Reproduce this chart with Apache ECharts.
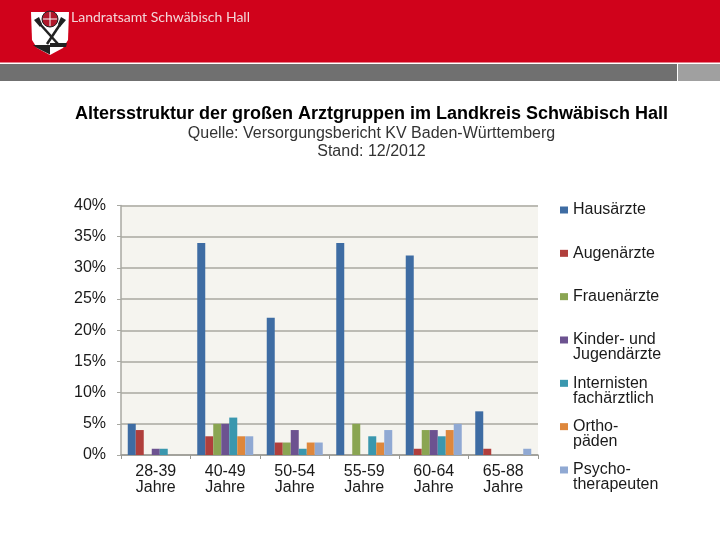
<!DOCTYPE html>
<html><head><meta charset="utf-8">
<style>html,body{margin:0;padding:0;background:#fff}#c{width:720px;height:540px}</style>
<script src="https://cdn.jsdelivr.net/npm/echarts@6/dist/echarts.min.js"></script>
</head><body><div id="c"></div>
<script>
const categories = ['28-39\nJahre','40-49\nJahre','50-54\nJahre','55-59\nJahre','60-64\nJahre','65-88\nJahre'];
const hausaerzte = [5,34,22,34,32,7];
const augenaerzte = [4,3,2,0,1,1];
const frauenaerzte = [0,5,2,5,4,0];
const kinderaerzte = [1,5,4,0,4,0];
const internisten = [1,6,1,3,3,0];
const orthopaeden = [0,3,2,2,4,0];
const psychotherapeuten = [0,3,2,4,5,1];
const seriesNames = ['Hausärzte','Augenärzte','Frauenärzte','Kinder- und\nJugendärzte','Internisten\nfachärztlich','Ortho-\npäden','Psycho-\ntherapeuten'];
const seriesValues = [hausaerzte,augenaerzte,frauenaerzte,kinderaerzte,internisten,orthopaeden,psychotherapeuten];
const colors = ['#3E6CA3','#B03F3C','#8AA552','#6C5290','#3A97AE','#DE873C','#90A9D3'];
const chart = echarts.init(document.getElementById('c'),null,{renderer:'canvas'});
const F='"Liberation Sans",Arial,sans-serif';
chart.setOption({
  animation:false,
  backgroundColor:'#fff',
  color:colors,
  title:{text:'Altersstruktur der großen Arztgruppen im Landkreis Schwäbisch Hall',
    subtext:'Quelle: Versorgungsbericht KV Baden-Württemberg\nStand: 12/2012',
    left:366.5,top:100,textAlign:'center',itemGap:2,
    textStyle:{fontFamily:F,fontSize:18,fontWeight:'bold',color:'#000'},
    subtextStyle:{fontFamily:F,fontSize:16,color:'#333',lineHeight:18,align:'center'}},
  legend:{orient:'vertical',left:555,top:182,itemWidth:8,itemHeight:7,itemGap:-2.67,icon:'rect',
    selectedMode:false,
    formatter:n=>n.includes('\n')?'\n'+n:'\n'+n+'\n ',
    textStyle:{fontFamily:F,fontSize:16,color:'#1a1a1a',lineHeight:15}},
  grid:{left:121,top:205.5,width:417,height:249.5},
  xAxis:{type:'category',data:categories,
    axisLine:{lineStyle:{color:'#9A9A94',width:1.5}},
    axisTick:{show:true,alignWithLabel:false,length:4,lineStyle:{color:'#9A9A94'}},
    axisLabel:{fontFamily:F,fontSize:16,color:'#1a1a1a',lineHeight:16,margin:9,interval:0}},
  yAxis:{type:'value',min:0,max:40,interval:5,
    axisLabel:{formatter:'{value}%',fontFamily:F,fontSize:16,color:'#1a1a1a',margin:15},
    axisLine:{show:true,lineStyle:{color:'#A8A8A2',width:1.5}},
    axisTick:{show:true,length:4,lineStyle:{color:'#A8A8A2'}},
    splitLine:{lineStyle:{color:'#A8A8A0',width:1.5}},
    splitArea:{show:false}},
  series:seriesNames.map((n,i)=>({name:n,type:'bar',data:seriesValues[i],barWidth:8,barGap:'0%',z:3})),
  graphic:[
    {type:'rect',silent:true,z:-10,shape:{x:121,y:205,width:417,height:250},style:{fill:'#F5F4EF'}},
    {type:'rect',silent:true,shape:{x:0,y:0,width:720,height:62.5},style:{fill:'#D0021B'}},
    {type:'rect',silent:true,shape:{x:0,y:64,width:677,height:17},style:{fill:'#707070'}},
    {type:'rect',silent:true,shape:{x:678,y:64,width:42,height:17},style:{fill:'#A0A0A0'}},
    {type:'polygon',silent:true,shape:{points:[[31,12],[69,12],[68,40],[63,48],[50,55],[37,48],[32,40]]},style:{fill:'#fff'}},
    {type:'polygon',silent:true,shape:{points:[[33,45],[50,45],[50,54.5],[37,48]]},style:{fill:'#222'}},
    {type:'polygon',silent:true,shape:{points:[[50,43],[67,43],[66,47],[50,47]]},style:{fill:'#222'}},
    {type:'polygon',silent:true,shape:{points:[[34,20],[39,17],[42,24],[40,27]]},style:{fill:'#222'}},
    {type:'polygon',silent:true,shape:{points:[[66,20],[61,17],[58,24],[60,27]]},style:{fill:'#222'}},
    {type:'line',silent:true,shape:{x1:40,y1:24,x2:58,y2:44},style:{stroke:'#222',lineWidth:2.5}},
    {type:'line',silent:true,shape:{x1:61,y1:23,x2:47,y2:44},style:{stroke:'#222',lineWidth:2.5}},
    {type:'circle',silent:true,shape:{cx:50,cy:19,r:8},style:{fill:'#B0182B',stroke:'#222',lineWidth:1}},
    {type:'line',silent:true,shape:{x1:50,y1:12,x2:50,y2:26},style:{stroke:'#fff',lineWidth:1}},
    {type:'line',silent:true,shape:{x1:43,y1:19,x2:57,y2:19},style:{stroke:'#fff',lineWidth:1}},
    {type:'text',silent:true,x:71,y:10,style:{text:'Landratsamt Schwäbisch Hall',fill:'#F3D5D8',fontFamily:'Lato',fontSize:14}}
  ]
});
</script></body></html>
